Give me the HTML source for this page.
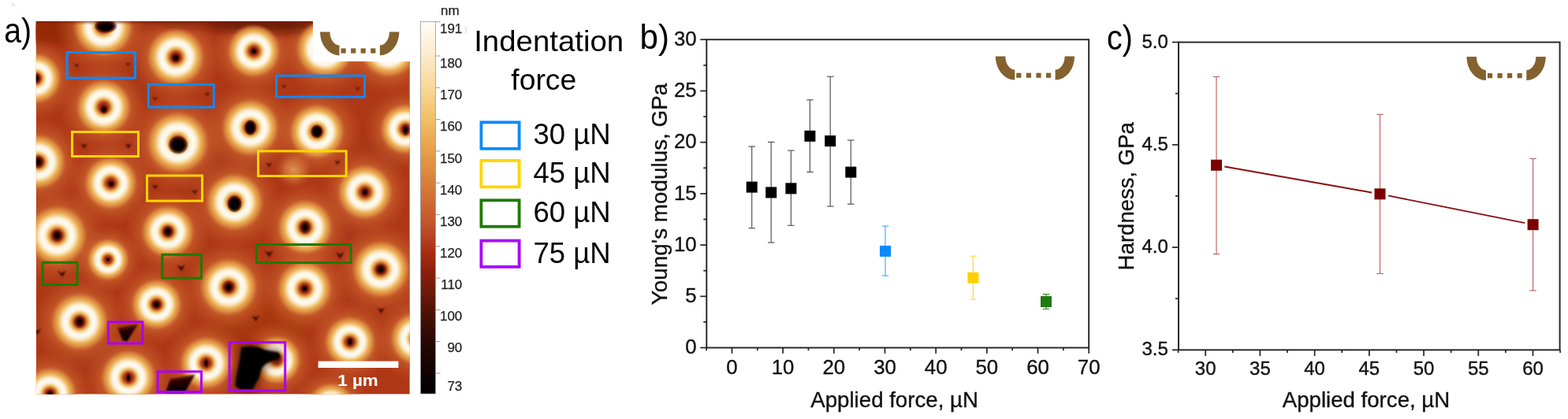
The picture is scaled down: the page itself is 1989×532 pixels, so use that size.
<!DOCTYPE html>
<html><head><meta charset="utf-8"><title>Figure</title>
<style>html,body{margin:0;padding:0;background:#fff;}body{width:1989px;height:532px;overflow:hidden;}svg{display:block;}</style>
</head><body>
<svg width="1989" height="532" viewBox="0 0 1989 532"><defs><radialGradient id="ring" cx="0.5" cy="0.5" r="0.5"><stop offset="0" stop-color="#5a1408"/><stop offset="0.083" stop-color="#8a2410"/><stop offset="0.152" stop-color="#a83418"/><stop offset="0.2" stop-color="#c05028"/><stop offset="0.25" stop-color="#d88c40"/><stop offset="0.3" stop-color="#eeba64"/><stop offset="0.345" stop-color="#f6d898"/><stop offset="0.39" stop-color="#fbeed8"/><stop offset="0.441" stop-color="#fdf8ec"/><stop offset="0.524" stop-color="#fdf8ec"/><stop offset="0.579" stop-color="#faecd0"/><stop offset="0.634" stop-color="#f6d8a0"/><stop offset="0.69" stop-color="#f0c070"/><stop offset="0.745" stop-color="#e8a850"/><stop offset="0.8" stop-color="#e29a48" stop-opacity="0.95"/><stop offset="0.855" stop-color="#dc8c44" stop-opacity="0.8"/><stop offset="0.924" stop-color="#d07838" stop-opacity="0.45"/><stop offset="1" stop-color="#c86030" stop-opacity="0"/></radialGradient>
<linearGradient id="topband" x1="0" y1="0" x2="0" y2="1">
<stop offset="0" stop-color="#4a0e02" stop-opacity="0.9"/>
<stop offset="0.15" stop-color="#6a1806" stop-opacity="0.5"/>
<stop offset="1" stop-color="#8a2008" stop-opacity="0"/>
</linearGradient>
<radialGradient id="halo" cx="0.5" cy="0.5" r="0.5">
<stop offset="0" stop-color="#e08a48" stop-opacity="0.9"/>
<stop offset="0.45" stop-color="#d87a3c" stop-opacity="0.8"/>
<stop offset="0.7" stop-color="#cc6430" stop-opacity="0.45"/>
<stop offset="1" stop-color="#c0502a" stop-opacity="0"/>
</radialGradient>
<radialGradient id="core" cx="0.5" cy="0.5" r="0.5">
<stop offset="0" stop-color="#000000"/>
<stop offset="0.3" stop-color="#140200"/>
<stop offset="0.6" stop-color="#4a0e04" stop-opacity="0.75"/>
<stop offset="1" stop-color="#7a200a" stop-opacity="0"/>
</radialGradient>
<radialGradient id="coreb" cx="0.5" cy="0.5" r="0.5">
<stop offset="0" stop-color="#000000"/>
<stop offset="0.55" stop-color="#060000"/>
<stop offset="0.8" stop-color="#3a0a02" stop-opacity="0.7"/>
<stop offset="1" stop-color="#7a200a" stop-opacity="0"/>
</radialGradient><linearGradient id="cbar" x1="0" y1="0" x2="0" y2="1"><stop offset="0" stop-color="#fffdf8"/><stop offset="0.09" stop-color="#fceacc"/><stop offset="0.175" stop-color="#f8d898"/><stop offset="0.259" stop-color="#f2c06a"/><stop offset="0.344" stop-color="#e8a04a"/><stop offset="0.429" stop-color="#d8803c"/><stop offset="0.513" stop-color="#c86030"/><stop offset="0.577" stop-color="#b84424"/><stop offset="0.619" stop-color="#a82c12"/><stop offset="0.672" stop-color="#8a200c"/><stop offset="0.725" stop-color="#6e1a0a"/><stop offset="0.788" stop-color="#4a1206"/><stop offset="0.852" stop-color="#2a0804"/><stop offset="0.937" stop-color="#120302"/><stop offset="1" stop-color="#000000"/></linearGradient><filter id="blur3" x="-50%" y="-50%" width="200%" height="200%"><feGaussianBlur stdDeviation="6"/></filter><filter id="blur2" x="-50%" y="-50%" width="200%" height="200%"><feGaussianBlur stdDeviation="1.8"/></filter>
<filter id="blur1" x="-50%" y="-50%" width="200%" height="200%"><feGaussianBlur stdDeviation="1.2"/></filter><linearGradient id="defg" x1="0" y1="0" x2="0.3" y2="1">
<stop offset="0" stop-color="#7a1e08" stop-opacity="0.7"/>
<stop offset="0.45" stop-color="#2a0400"/>
<stop offset="1" stop-color="#000000"/>
</linearGradient>
<radialGradient id="bump" cx="0.5" cy="0.5" r="0.5">
<stop offset="0" stop-color="#e8a860" stop-opacity="0.85"/>
<stop offset="0.5" stop-color="#dc8a48" stop-opacity="0.6"/>
<stop offset="1" stop-color="#c86030" stop-opacity="0"/>
</radialGradient>
<clipPath id="afmclip"><rect x="45.8" y="27" width="474" height="473.6"/></clipPath></defs><g clip-path="url(#afmclip)"><rect x="45.8" y="27" width="473.99999999999994" height="473.6" fill="#ae3816"/><g filter="url(#blur3)"><ellipse cx="70" cy="40" rx="40" ry="18" fill="#8a2208" opacity="0.7"/><ellipse cx="200" cy="30" rx="40" ry="6" fill="#7a1c06" opacity="0.5"/><ellipse cx="170" cy="110" rx="30" ry="20" fill="#a03410" opacity="0.5"/><ellipse cx="260" cy="215" rx="40" ry="30" fill="#a53812" opacity="0.4"/><ellipse cx="420" cy="280" rx="40" ry="30" fill="#a53812" opacity="0.4"/><ellipse cx="330" cy="420" rx="60" ry="40" fill="#a03410" opacity="0.4"/><ellipse cx="120" cy="450" rx="40" ry="30" fill="#a53812" opacity="0.4"/><ellipse cx="480" cy="200" rx="30" ry="30" fill="#a53812" opacity="0.4"/></g><circle cx="373" cy="215" r="24" fill="url(#bump)"/><circle cx="131" cy="34" r="62.1" fill="url(#halo)"/><circle cx="45.5" cy="99.5" r="52.9" fill="url(#halo)"/><circle cx="223" cy="72.5" r="59.8" fill="url(#halo)"/><circle cx="322" cy="65" r="55.2" fill="url(#halo)"/><circle cx="412" cy="62" r="59.8" fill="url(#halo)"/><circle cx="493" cy="62" r="59.8" fill="url(#halo)"/><circle cx="131.5" cy="136" r="57.5" fill="url(#halo)"/><circle cx="317.5" cy="162" r="59.8" fill="url(#halo)"/><circle cx="225.5" cy="181" r="64.4" fill="url(#halo)"/><circle cx="402" cy="167" r="57.5" fill="url(#halo)"/><circle cx="514.5" cy="164" r="52.9" fill="url(#halo)"/><circle cx="48.5" cy="205.5" r="57.5" fill="url(#halo)"/><circle cx="140.5" cy="232.5" r="55.2" fill="url(#halo)"/><circle cx="297.5" cy="256.5" r="59.8" fill="url(#halo)"/><circle cx="463" cy="244" r="57.5" fill="url(#halo)"/><circle cx="72.5" cy="299" r="62.1" fill="url(#halo)"/><circle cx="213" cy="294" r="55.2" fill="url(#halo)"/><circle cx="387" cy="288.5" r="57.5" fill="url(#halo)"/><circle cx="483" cy="342" r="59.8" fill="url(#halo)"/><circle cx="137" cy="329.5" r="43.7" fill="url(#halo)"/><circle cx="290" cy="364.5" r="59.8" fill="url(#halo)"/><circle cx="386.4" cy="366.4" r="57.5" fill="url(#halo)"/><circle cx="101" cy="408.5" r="59.8" fill="url(#halo)"/><circle cx="198.5" cy="386.5" r="52.9" fill="url(#halo)"/><circle cx="163" cy="479.5" r="57.5" fill="url(#halo)"/><circle cx="63.5" cy="500" r="55.2" fill="url(#halo)"/><circle cx="261.5" cy="461" r="55.2" fill="url(#halo)"/><circle cx="351" cy="457" r="50.6" fill="url(#halo)"/><circle cx="444" cy="434" r="52.9" fill="url(#halo)"/><circle cx="528.5" cy="430" r="55.2" fill="url(#halo)"/><circle cx="420" cy="517" r="50.6" fill="url(#halo)"/><g filter="url(#blur3)"><ellipse cx="335" cy="31" rx="75" ry="11" fill="#5a1404" opacity="0.8"/><ellipse cx="240" cy="29" rx="40" ry="6" fill="#6a1806" opacity="0.6"/></g><circle cx="131" cy="34" r="39.1" fill="url(#ring)"/><circle cx="45.5" cy="99.5" r="33.4" fill="url(#ring)"/><circle cx="223" cy="72.5" r="37.7" fill="url(#ring)"/><circle cx="322" cy="65" r="34.8" fill="url(#ring)"/><circle cx="412" cy="62" r="37.7" fill="url(#ring)"/><circle cx="493" cy="62" r="37.7" fill="url(#ring)"/><circle cx="131.5" cy="136" r="36.2" fill="url(#ring)"/><circle cx="317.5" cy="162" r="37.7" fill="url(#ring)"/><circle cx="225.5" cy="181" r="40.6" fill="url(#ring)"/><circle cx="402" cy="167" r="36.2" fill="url(#ring)"/><circle cx="514.5" cy="164" r="33.4" fill="url(#ring)"/><circle cx="48.5" cy="205.5" r="36.2" fill="url(#ring)"/><circle cx="140.5" cy="232.5" r="34.8" fill="url(#ring)"/><circle cx="297.5" cy="256.5" r="37.7" fill="url(#ring)"/><circle cx="463" cy="244" r="36.2" fill="url(#ring)"/><circle cx="72.5" cy="299" r="39.1" fill="url(#ring)"/><circle cx="213" cy="294" r="34.8" fill="url(#ring)"/><circle cx="387" cy="288.5" r="36.2" fill="url(#ring)"/><circle cx="483" cy="342" r="37.7" fill="url(#ring)"/><circle cx="137" cy="329.5" r="27.6" fill="url(#ring)"/><circle cx="290" cy="364.5" r="37.7" fill="url(#ring)"/><circle cx="386.4" cy="366.4" r="36.2" fill="url(#ring)"/><circle cx="101" cy="408.5" r="37.7" fill="url(#ring)"/><circle cx="198.5" cy="386.5" r="33.4" fill="url(#ring)"/><circle cx="163" cy="479.5" r="36.2" fill="url(#ring)"/><circle cx="63.5" cy="500" r="34.8" fill="url(#ring)"/><circle cx="261.5" cy="461" r="34.8" fill="url(#ring)"/><circle cx="351" cy="457" r="31.9" fill="url(#ring)"/><circle cx="444" cy="434" r="33.4" fill="url(#ring)"/><circle cx="528.5" cy="430" r="34.8" fill="url(#ring)"/><circle cx="420" cy="517" r="31.9" fill="url(#ring)"/><ellipse cx="134" cy="33" rx="15.20" ry="9.50" fill="url(#coreb)"/><ellipse cx="45.5" cy="99.5" rx="7.00" ry="8.00" fill="url(#core)"/><ellipse cx="223" cy="73.5" rx="7.00" ry="7.00" fill="url(#core)"/><ellipse cx="322" cy="65" rx="5.50" ry="5.50" fill="url(#core)"/><ellipse cx="412" cy="62" rx="7.00" ry="7.00" fill="url(#core)"/><ellipse cx="493" cy="62" rx="7.00" ry="7.00" fill="url(#core)"/><ellipse cx="132.0" cy="139" rx="6.00" ry="6.50" fill="url(#core)"/><ellipse cx="317.5" cy="162" rx="8.07" ry="10.45" fill="url(#coreb)"/><ellipse cx="226.0" cy="184" rx="13.30" ry="12.35" fill="url(#coreb)"/><ellipse cx="402" cy="167" rx="8.07" ry="9.03" fill="url(#coreb)"/><ellipse cx="514.5" cy="165" rx="5.50" ry="8.50" fill="url(#core)"/><ellipse cx="48.5" cy="205.5" rx="8.00" ry="9.00" fill="url(#core)"/><ellipse cx="141.0" cy="233.5" rx="5.50" ry="5.50" fill="url(#core)"/><ellipse cx="297.5" cy="259.0" rx="9.97" ry="11.40" fill="url(#coreb)"/><ellipse cx="463" cy="244" rx="5.50" ry="6.50" fill="url(#core)"/><ellipse cx="72.5" cy="299" rx="8.00" ry="9.00" fill="url(#core)"/><ellipse cx="213" cy="294" rx="7.50" ry="8.50" fill="url(#core)"/><ellipse cx="387" cy="288.5" rx="8.00" ry="10.00" fill="url(#core)"/><ellipse cx="483" cy="342" rx="8.00" ry="8.00" fill="url(#core)"/><ellipse cx="137" cy="329.5" rx="3.50" ry="3.50" fill="url(#core)"/><ellipse cx="290" cy="364.5" rx="8.00" ry="9.00" fill="url(#core)"/><ellipse cx="386.4" cy="366.4" rx="6.00" ry="6.00" fill="url(#core)"/><ellipse cx="101" cy="408.5" rx="8.00" ry="9.00" fill="url(#core)"/><ellipse cx="198.5" cy="386.5" rx="7.00" ry="7.00" fill="url(#core)"/><ellipse cx="163" cy="479.5" rx="4.00" ry="7.50" fill="url(#core)"/><ellipse cx="63.5" cy="500" rx="6.00" ry="6.00" fill="url(#core)"/><ellipse cx="261.5" cy="461" rx="4.00" ry="7.00" fill="url(#core)"/><ellipse cx="351" cy="454" rx="6.00" ry="5.00" fill="url(#core)"/><ellipse cx="444" cy="434" rx="5.00" ry="7.00" fill="url(#core)"/><ellipse cx="528.5" cy="430" rx="6.00" ry="6.00" fill="url(#core)"/><ellipse cx="420" cy="517" rx="5.00" ry="5.00" fill="url(#core)"/><rect x="46" y="27" width="474" height="5" fill="url(#topband)"/><path d="M93.8 80.8 L97.0 82.4 L100.2 80.8 L97.3 85.6 Z" fill="#2a0400" opacity="0.85" filter="url(#blur1)"/><path d="M158.8 79.3 L162.0 80.9 L165.2 79.3 L162.3 84.1 Z" fill="#2a0400" opacity="0.85" filter="url(#blur1)"/><path d="M193.3 122.8 L196.5 124.4 L199.7 122.8 L196.8 127.6 Z" fill="#2a0400" opacity="0.85" filter="url(#blur1)"/><path d="M259.8 117.3 L263.0 118.9 L266.2 117.3 L263.3 122.1 Z" fill="#2a0400" opacity="0.85" filter="url(#blur1)"/><path d="M356.8 107.3 L360.0 108.9 L363.2 107.3 L360.3 112.1 Z" fill="#2a0400" opacity="0.85" filter="url(#blur1)"/><path d="M450.3 110.3 L453.5 111.9 L456.7 110.3 L453.8 115.1 Z" fill="#2a0400" opacity="0.85" filter="url(#blur1)"/><path d="M102.3 182.1 L106.5 184.2 L110.7 182.1 L106.9 188.4 Z" fill="#2a0400" opacity="0.85" filter="url(#blur1)"/><path d="M158.3 182.1 L162.5 184.2 L166.7 182.1 L162.9 188.4 Z" fill="#2a0400" opacity="0.85" filter="url(#blur1)"/><path d="M192.5 234.2 L196.5 236.2 L200.5 234.2 L196.9 240.2 Z" fill="#2a0400" opacity="0.85" filter="url(#blur1)"/><path d="M243.0 240.7 L247.0 242.7 L251.0 240.7 L247.4 246.7 Z" fill="#2a0400" opacity="0.85" filter="url(#blur1)"/><path d="M337.0 206.2 L341.0 208.2 L345.0 206.2 L341.4 212.2 Z" fill="#2a0400" opacity="0.85" filter="url(#blur1)"/><path d="M424.0 203.2 L428.0 205.2 L432.0 203.2 L428.4 209.2 Z" fill="#2a0400" opacity="0.85" filter="url(#blur1)"/><path d="M73.0 343.6 L78.5 346.4 L84.0 343.6 L79.0 351.9 Z" fill="#2a0400" opacity="0.85" filter="url(#blur1)"/><path d="M224.0 336.1 L229.5 338.9 L235.0 336.1 L230.1 344.4 Z" fill="#2a0400" opacity="0.85" filter="url(#blur1)"/><path d="M335.5 318.1 L341.0 320.9 L346.5 318.1 L341.6 326.4 Z" fill="#2a0400" opacity="0.85" filter="url(#blur1)"/><path d="M425.5 320.1 L431.0 322.9 L436.5 320.1 L431.6 328.4 Z" fill="#2a0400" opacity="0.85" filter="url(#blur1)"/><path d="M319.0 400.5 L324.0 403.0 L329.0 400.5 L324.5 408.0 Z" fill="#2a0400" opacity="0.85" filter="url(#blur1)"/><path d="M478.0 390.5 L483.0 393.0 L488.0 390.5 L483.5 398.0 Z" fill="#2a0400" opacity="0.85" filter="url(#blur1)"/><path d="M42.0 417.5 L47.0 420.0 L52.0 417.5 L47.5 425.0 Z" fill="#2a0400" opacity="0.85" filter="url(#blur1)"/><path d="M149 416 L175 411.5 L161 433.5 L155.5 432 Z" fill="url(#defg)" filter="url(#blur1)"/><path d="M210 499 L216 481 L247.5 475.5 L234 499 Z" fill="url(#defg)" filter="url(#blur1)"/><path d="M306 441 L318 439.5 L328.5 441 L336 444 L345 446 L353 447.5 L356 452 L348 457.5 L338 461.5 L332.5 466.5 L330.5 473 L328.5 480.5 L324 487.5 L321 494.5 L306 495 L298.5 490 L299.5 480 L302 467.5 L304.5 454 Z" fill="#4a0c02" stroke="#4a0c02" stroke-width="6" opacity="0.6" filter="url(#blur3)"/><path d="M306 441 L318 439.5 L328.5 441 L336 444 L345 446 L353 447.5 L356 452 L348 457.5 L338 461.5 L332.5 466.5 L330.5 473 L328.5 480.5 L324 487.5 L321 494.5 L306 495 L298.5 490 L299.5 480 L302 467.5 L304.5 454 Z" fill="#030000" filter="url(#blur2)"/></g>
<rect x="85.1" y="66.5" width="86.4" height="32.6" fill="none" stroke="#0a8aff" stroke-width="3"/>
<rect x="188.3" y="107.3" width="82.9" height="28.8" fill="none" stroke="#0a8aff" stroke-width="3"/>
<rect x="350.5" y="96.1" width="112.0" height="27.0" fill="none" stroke="#0a8aff" stroke-width="3"/>
<rect x="91.5" y="167.5" width="84.0" height="31.0" fill="none" stroke="#ffd500" stroke-width="3"/>
<rect x="186.5" y="223.0" width="70.0" height="32.1" fill="none" stroke="#ffd500" stroke-width="3"/>
<rect x="327.5" y="191.9" width="111.7" height="31.6" fill="none" stroke="#ffd500" stroke-width="3"/>
<rect x="54.0" y="333.3" width="44.1" height="28.2" fill="none" stroke="#1f7a00" stroke-width="3"/>
<rect x="205.8" y="323.3" width="49.5" height="29.8" fill="none" stroke="#1f7a00" stroke-width="3"/>
<rect x="325.5" y="310.5" width="119.5" height="23.0" fill="none" stroke="#1f7a00" stroke-width="3"/>
<rect x="137.4" y="408.8" width="43.4" height="27.2" fill="none" stroke="#aa00ff" stroke-width="3"/>
<rect x="200.0" y="471.8" width="55.5" height="25.7" fill="none" stroke="#aa00ff" stroke-width="3"/>
<rect x="291.1" y="434.7" width="70.6" height="61.4" fill="none" stroke="#aa00ff" stroke-width="3"/>
<rect x="403.6" y="458.6" width="101.8" height="8.4" fill="#ffffff"/>
<text x="428.3" y="490.4" font-family='"Liberation Sans", Arial, sans-serif' font-weight="bold" font-size="21" fill="#ffffff" textLength="51.5" lengthAdjust="spacingAndGlyphs">1 µm</text>
<rect x="397" y="26" width="123" height="52" fill="#ffffff"/>
<path d="M406.0 40.4 L418.5 40.4 A12.0 17.0 0 0 0 430.5 57.4 L430.5 70.4 A24.5 30.0 0 0 1 406.0 40.4 Z" fill="#84612e"/><path d="M506.4 40.4 L493.9 40.4 A12.0 17.0 0 0 1 481.9 57.4 L481.9 70.4 A24.5 30.0 0 0 0 506.4 40.4 Z" fill="#84612e"/><rect x="432.5" y="61.4" width="6.2" height="6.2" fill="#84612e"/><rect x="445.1" y="61.4" width="6.2" height="6.2" fill="#84612e"/><rect x="457.6" y="61.4" width="6.2" height="6.2" fill="#84612e"/><rect x="470.2" y="61.4" width="6.2" height="6.2" fill="#84612e"/>
<rect x="533.5" y="27.5" width="19" height="472.5" fill="url(#cbar)" stroke="#9a9a9a" stroke-width="0.8"/>
<line x1="552.5" y1="27.7" x2="558.5" y2="27.7" stroke="#9a9a9a" stroke-width="1"/>
<line x1="552.5" y1="71" x2="558.5" y2="71" stroke="#9a9a9a" stroke-width="1"/>
<line x1="552.5" y1="111.3" x2="558.5" y2="111.3" stroke="#9a9a9a" stroke-width="1"/>
<line x1="552.5" y1="151.6" x2="558.5" y2="151.6" stroke="#9a9a9a" stroke-width="1"/>
<line x1="552.5" y1="191.9" x2="558.5" y2="191.9" stroke="#9a9a9a" stroke-width="1"/>
<line x1="552.5" y1="232.2" x2="558.5" y2="232.2" stroke="#9a9a9a" stroke-width="1"/>
<line x1="552.5" y1="272.5" x2="558.5" y2="272.5" stroke="#9a9a9a" stroke-width="1"/>
<line x1="552.5" y1="312.8" x2="558.5" y2="312.8" stroke="#9a9a9a" stroke-width="1"/>
<line x1="552.5" y1="353.1" x2="558.5" y2="353.1" stroke="#9a9a9a" stroke-width="1"/>
<line x1="552.5" y1="393.4" x2="558.5" y2="393.4" stroke="#9a9a9a" stroke-width="1"/>
<line x1="552.5" y1="433.7" x2="558.5" y2="433.7" stroke="#9a9a9a" stroke-width="1"/>
<line x1="552.5" y1="474" x2="558.5" y2="474" stroke="#9a9a9a" stroke-width="1"/>
<text x="586.3" y="42.3" text-anchor="end" font-family='"Liberation Sans", Arial, sans-serif' font-size="17" fill="#222" stroke="#222" stroke-width="0.25">191</text>
<text x="586.3" y="86.2" text-anchor="end" font-family='"Liberation Sans", Arial, sans-serif' font-size="17" fill="#222" stroke="#222" stroke-width="0.25">180</text>
<text x="586.3" y="126" text-anchor="end" font-family='"Liberation Sans", Arial, sans-serif' font-size="17" fill="#222" stroke="#222" stroke-width="0.25">170</text>
<text x="586.3" y="166" text-anchor="end" font-family='"Liberation Sans", Arial, sans-serif' font-size="17" fill="#222" stroke="#222" stroke-width="0.25">160</text>
<text x="586.3" y="207" text-anchor="end" font-family='"Liberation Sans", Arial, sans-serif' font-size="17" fill="#222" stroke="#222" stroke-width="0.25">150</text>
<text x="586.3" y="247" text-anchor="end" font-family='"Liberation Sans", Arial, sans-serif' font-size="17" fill="#222" stroke="#222" stroke-width="0.25">140</text>
<text x="586.3" y="287" text-anchor="end" font-family='"Liberation Sans", Arial, sans-serif' font-size="17" fill="#222" stroke="#222" stroke-width="0.25">130</text>
<text x="586.3" y="327" text-anchor="end" font-family='"Liberation Sans", Arial, sans-serif' font-size="17" fill="#222" stroke="#222" stroke-width="0.25">120</text>
<text x="586.3" y="367" text-anchor="end" font-family='"Liberation Sans", Arial, sans-serif' font-size="17" fill="#222" stroke="#222" stroke-width="0.25">110</text>
<text x="586.3" y="407" text-anchor="end" font-family='"Liberation Sans", Arial, sans-serif' font-size="17" fill="#222" stroke="#222" stroke-width="0.25">100</text>
<text x="586.3" y="447" text-anchor="end" font-family='"Liberation Sans", Arial, sans-serif' font-size="17" fill="#222" stroke="#222" stroke-width="0.25">90</text>
<text x="586.3" y="496" text-anchor="end" font-family='"Liberation Sans", Arial, sans-serif' font-size="17" fill="#222" stroke="#222" stroke-width="0.25">73</text>
<line x1="591" y1="34" x2="591" y2="42" stroke="#d0d0d0" stroke-width="1"/>
<text x="559" y="18.8" font-family='"Liberation Sans", Arial, sans-serif' font-size="17" fill="#222" stroke="#222" stroke-width="0.25">nm</text>
<text x="601.2" y="65.2" font-family='"Liberation Sans", Arial, sans-serif' font-size="36" fill="#000" textLength="190" lengthAdjust="spacingAndGlyphs">Indentation</text>
<text x="648.3" y="113.5" font-family='"Liberation Sans", Arial, sans-serif' font-size="36" fill="#000" textLength="83" lengthAdjust="spacingAndGlyphs">force</text>
<rect x="610.4" y="155.3" width="48.2" height="33.5" fill="none" stroke="#0a8aff" stroke-width="3.8"/>
<text x="676.5" y="183.4" font-family='"Liberation Sans", Arial, sans-serif' font-size="36" fill="#000" textLength="98" lengthAdjust="spacingAndGlyphs">30 µN</text>
<rect x="610.4" y="203.9" width="48.2" height="33.4" fill="none" stroke="#ffd500" stroke-width="3.8"/>
<text x="676.5" y="232" font-family='"Liberation Sans", Arial, sans-serif' font-size="36" fill="#000" textLength="98" lengthAdjust="spacingAndGlyphs">45 µN</text>
<rect x="610.4" y="254.3" width="48.2" height="33.4" fill="none" stroke="#1f7a00" stroke-width="3.8"/>
<text x="676.5" y="282.4" font-family='"Liberation Sans", Arial, sans-serif' font-size="36" fill="#000" textLength="98" lengthAdjust="spacingAndGlyphs">60 µN</text>
<rect x="610.4" y="305.6" width="48.2" height="33.2" fill="none" stroke="#aa00ff" stroke-width="3.8"/>
<text x="676.5" y="334" font-family='"Liberation Sans", Arial, sans-serif' font-size="36" fill="#000" textLength="98" lengthAdjust="spacingAndGlyphs">75 µN</text>
<line x1="14.5" y1="3.5" x2="19" y2="8" stroke="#c8c8c8" stroke-width="1"/>
<text x="5.2" y="54.3" font-family='"Liberation Sans", Arial, sans-serif' font-size="43.5" fill="#000" textLength="34.8" lengthAdjust="spacingAndGlyphs">a)</text>
<text x="811.6" y="62.2" font-family='"Liberation Sans", Arial, sans-serif' font-size="44" fill="#000" textLength="37.4" lengthAdjust="spacingAndGlyphs">b)</text>
<text x="1404" y="63.2" font-family='"Liberation Sans", Arial, sans-serif' font-size="44" fill="#000" textLength="32.8" lengthAdjust="spacingAndGlyphs">c)</text>
<rect x="896.3" y="50.25" width="484.90" height="391.25" fill="none" stroke="#222222" stroke-width="1.9"/>
<line x1="896.11" y1="441.5" x2="896.11" y2="445.1" stroke="#222222" stroke-width="1.7"/>
<line x1="928.45" y1="441.5" x2="928.45" y2="448.8" stroke="#222222" stroke-width="1.7"/>
<text x="928.45" y="474.5" text-anchor="middle" font-family='"Liberation Sans", Arial, sans-serif' font-size="25.8" fill="#111" stroke="#111" stroke-width="0.35">0</text>
<line x1="960.79" y1="441.5" x2="960.79" y2="445.1" stroke="#222222" stroke-width="1.7"/>
<line x1="993.13" y1="441.5" x2="993.13" y2="448.8" stroke="#222222" stroke-width="1.7"/>
<text x="993.13" y="474.5" text-anchor="middle" font-family='"Liberation Sans", Arial, sans-serif' font-size="25.8" fill="#111" stroke="#111" stroke-width="0.35">10</text>
<line x1="1025.47" y1="441.5" x2="1025.47" y2="445.1" stroke="#222222" stroke-width="1.7"/>
<line x1="1057.81" y1="441.5" x2="1057.81" y2="448.8" stroke="#222222" stroke-width="1.7"/>
<text x="1057.81" y="474.5" text-anchor="middle" font-family='"Liberation Sans", Arial, sans-serif' font-size="25.8" fill="#111" stroke="#111" stroke-width="0.35">20</text>
<line x1="1090.15" y1="441.5" x2="1090.15" y2="445.1" stroke="#222222" stroke-width="1.7"/>
<line x1="1122.49" y1="441.5" x2="1122.49" y2="448.8" stroke="#222222" stroke-width="1.7"/>
<text x="1122.49" y="474.5" text-anchor="middle" font-family='"Liberation Sans", Arial, sans-serif' font-size="25.8" fill="#111" stroke="#111" stroke-width="0.35">30</text>
<line x1="1154.83" y1="441.5" x2="1154.83" y2="445.1" stroke="#222222" stroke-width="1.7"/>
<line x1="1187.17" y1="441.5" x2="1187.17" y2="448.8" stroke="#222222" stroke-width="1.7"/>
<text x="1187.17" y="474.5" text-anchor="middle" font-family='"Liberation Sans", Arial, sans-serif' font-size="25.8" fill="#111" stroke="#111" stroke-width="0.35">40</text>
<line x1="1219.51" y1="441.5" x2="1219.51" y2="445.1" stroke="#222222" stroke-width="1.7"/>
<line x1="1251.85" y1="441.5" x2="1251.85" y2="448.8" stroke="#222222" stroke-width="1.7"/>
<text x="1251.85" y="474.5" text-anchor="middle" font-family='"Liberation Sans", Arial, sans-serif' font-size="25.8" fill="#111" stroke="#111" stroke-width="0.35">50</text>
<line x1="1284.19" y1="441.5" x2="1284.19" y2="445.1" stroke="#222222" stroke-width="1.7"/>
<line x1="1316.53" y1="441.5" x2="1316.53" y2="448.8" stroke="#222222" stroke-width="1.7"/>
<text x="1316.53" y="474.5" text-anchor="middle" font-family='"Liberation Sans", Arial, sans-serif' font-size="25.8" fill="#111" stroke="#111" stroke-width="0.35">60</text>
<line x1="1348.87" y1="441.5" x2="1348.87" y2="445.1" stroke="#222222" stroke-width="1.7"/>
<line x1="1381.21" y1="441.5" x2="1381.21" y2="448.8" stroke="#222222" stroke-width="1.7"/>
<text x="1381.21" y="474.5" text-anchor="middle" font-family='"Liberation Sans", Arial, sans-serif' font-size="25.8" fill="#111" stroke="#111" stroke-width="0.35">70</text>
<line x1="888.3" y1="441.50" x2="896.3" y2="441.50" stroke="#222222" stroke-width="1.7"/>
<text x="883.6" y="449.30" text-anchor="end" font-family='"Liberation Sans", Arial, sans-serif' font-size="25.8" fill="#111" stroke="#111" stroke-width="0.35">0</text>
<line x1="892.3" y1="408.89" x2="896.3" y2="408.89" stroke="#222222" stroke-width="1.7"/>
<line x1="888.3" y1="376.29" x2="896.3" y2="376.29" stroke="#222222" stroke-width="1.7"/>
<text x="883.6" y="384.09" text-anchor="end" font-family='"Liberation Sans", Arial, sans-serif' font-size="25.8" fill="#111" stroke="#111" stroke-width="0.35">5</text>
<line x1="892.3" y1="343.69" x2="896.3" y2="343.69" stroke="#222222" stroke-width="1.7"/>
<line x1="888.3" y1="311.08" x2="896.3" y2="311.08" stroke="#222222" stroke-width="1.7"/>
<text x="883.6" y="318.88" text-anchor="end" font-family='"Liberation Sans", Arial, sans-serif' font-size="25.8" fill="#111" stroke="#111" stroke-width="0.35">10</text>
<line x1="892.3" y1="278.48" x2="896.3" y2="278.48" stroke="#222222" stroke-width="1.7"/>
<line x1="888.3" y1="245.87" x2="896.3" y2="245.87" stroke="#222222" stroke-width="1.7"/>
<text x="883.6" y="253.67" text-anchor="end" font-family='"Liberation Sans", Arial, sans-serif' font-size="25.8" fill="#111" stroke="#111" stroke-width="0.35">15</text>
<line x1="892.3" y1="213.27" x2="896.3" y2="213.27" stroke="#222222" stroke-width="1.7"/>
<line x1="888.3" y1="180.66" x2="896.3" y2="180.66" stroke="#222222" stroke-width="1.7"/>
<text x="883.6" y="188.46" text-anchor="end" font-family='"Liberation Sans", Arial, sans-serif' font-size="25.8" fill="#111" stroke="#111" stroke-width="0.35">20</text>
<line x1="892.3" y1="148.06" x2="896.3" y2="148.06" stroke="#222222" stroke-width="1.7"/>
<line x1="888.3" y1="115.45" x2="896.3" y2="115.45" stroke="#222222" stroke-width="1.7"/>
<text x="883.6" y="123.25" text-anchor="end" font-family='"Liberation Sans", Arial, sans-serif' font-size="25.8" fill="#111" stroke="#111" stroke-width="0.35">25</text>
<line x1="892.3" y1="82.85" x2="896.3" y2="82.85" stroke="#222222" stroke-width="1.7"/>
<line x1="888.3" y1="50.24" x2="896.3" y2="50.24" stroke="#222222" stroke-width="1.7"/>
<text x="883.6" y="58.04" text-anchor="end" font-family='"Liberation Sans", Arial, sans-serif' font-size="25.8" fill="#111" stroke="#111" stroke-width="0.35">30</text>
<text transform="translate(846.2,246.4) rotate(-90)" text-anchor="middle" font-family='"Liberation Sans", Arial, sans-serif' font-size="27.6" fill="#111" stroke="#111" stroke-width="0.35" textLength="281.5" lengthAdjust="spacingAndGlyphs">Young's modulus, GPa</text>
<text x="1134.6" y="517.2" text-anchor="middle" font-family='"Liberation Sans", Arial, sans-serif' font-size="27.6" fill="#111" stroke="#111" stroke-width="0.35" textLength="212.6" lengthAdjust="spacingAndGlyphs">Applied force, µN</text>
<line x1="953.7" y1="186.0" x2="953.7" y2="289.7" stroke="#555" stroke-width="1.2"/><line x1="949.5" y1="186.0" x2="958.0" y2="186.0" stroke="#555" stroke-width="1.2"/><line x1="949.5" y1="289.7" x2="958.0" y2="289.7" stroke="#555" stroke-width="1.2"/>
<line x1="978.2" y1="180.4" x2="978.2" y2="308.0" stroke="#555" stroke-width="1.2"/><line x1="974.0" y1="180.4" x2="982.5" y2="180.4" stroke="#555" stroke-width="1.2"/><line x1="974.0" y1="308.0" x2="982.5" y2="308.0" stroke="#555" stroke-width="1.2"/>
<line x1="1003.4" y1="191.1" x2="1003.4" y2="286.3" stroke="#555" stroke-width="1.2"/><line x1="999.1" y1="191.1" x2="1007.6" y2="191.1" stroke="#555" stroke-width="1.2"/><line x1="999.1" y1="286.3" x2="1007.6" y2="286.3" stroke="#555" stroke-width="1.2"/>
<line x1="1027.4" y1="126.8" x2="1027.4" y2="218.4" stroke="#555" stroke-width="1.2"/><line x1="1023.2" y1="126.8" x2="1031.7" y2="126.8" stroke="#555" stroke-width="1.2"/><line x1="1023.2" y1="218.4" x2="1031.7" y2="218.4" stroke="#555" stroke-width="1.2"/>
<line x1="1053.2" y1="97.2" x2="1053.2" y2="262.0" stroke="#555" stroke-width="1.2"/><line x1="1049.0" y1="97.2" x2="1057.5" y2="97.2" stroke="#555" stroke-width="1.2"/><line x1="1049.0" y1="262.0" x2="1057.5" y2="262.0" stroke="#555" stroke-width="1.2"/>
<line x1="1079.3" y1="178.0" x2="1079.3" y2="259.2" stroke="#555" stroke-width="1.2"/><line x1="1075.0" y1="178.0" x2="1083.5" y2="178.0" stroke="#555" stroke-width="1.2"/><line x1="1075.0" y1="259.2" x2="1083.5" y2="259.2" stroke="#555" stroke-width="1.2"/>
<line x1="1123.0" y1="287.1" x2="1123.0" y2="350.1" stroke="#48a8ff" stroke-width="1.2"/><line x1="1118.8" y1="287.1" x2="1127.2" y2="287.1" stroke="#48a8ff" stroke-width="1.2"/><line x1="1118.8" y1="350.1" x2="1127.2" y2="350.1" stroke="#48a8ff" stroke-width="1.2"/>
<line x1="1234.4" y1="325.2" x2="1234.4" y2="380.0" stroke="#ffd840" stroke-width="1.2"/><line x1="1230.2" y1="325.2" x2="1238.7" y2="325.2" stroke="#ffd840" stroke-width="1.2"/><line x1="1230.2" y1="380.0" x2="1238.7" y2="380.0" stroke="#ffd840" stroke-width="1.2"/>
<line x1="1327.0" y1="373.6" x2="1327.0" y2="392.3" stroke="#3a8a2a" stroke-width="1.2"/><line x1="1322.8" y1="373.6" x2="1331.2" y2="373.6" stroke="#3a8a2a" stroke-width="1.2"/><line x1="1322.8" y1="392.3" x2="1331.2" y2="392.3" stroke="#3a8a2a" stroke-width="1.2"/>
<rect x="946.7" y="230.6" width="14" height="14" fill="#000"/>
<rect x="971.2" y="237.4" width="14" height="14" fill="#000"/>
<rect x="996.4" y="232.3" width="14" height="14" fill="#000"/>
<rect x="1020.4" y="165.8" width="14" height="14" fill="#000"/>
<rect x="1046.2" y="172.0" width="14" height="14" fill="#000"/>
<rect x="1072.3" y="211.6" width="14" height="14" fill="#000"/>
<rect x="1116.0" y="311.9" width="14" height="14" fill="#0a8aff"/>
<rect x="1227.4" y="345.7" width="14" height="14" fill="#ffd000"/>
<rect x="1320.0" y="376.0" width="14" height="14" fill="#237a12"/>
<path d="M1262.8 71.6 L1275.3 71.6 A12.0 17.0 0 0 0 1287.3 88.6 L1287.3 101.6 A24.5 30.0 0 0 1 1262.8 71.6 Z" fill="#84612e"/><path d="M1363.1 71.6 L1350.6 71.6 A12.0 17.0 0 0 1 1338.6 88.6 L1338.6 101.6 A24.5 30.0 0 0 0 1363.1 71.6 Z" fill="#84612e"/><rect x="1289.2" y="92.6" width="6.2" height="6.2" fill="#84612e"/><rect x="1301.8" y="92.6" width="6.2" height="6.2" fill="#84612e"/><rect x="1314.4" y="92.6" width="6.2" height="6.2" fill="#84612e"/><rect x="1327.0" y="92.6" width="6.2" height="6.2" fill="#84612e"/>
<rect x="1495.0" y="53.6" width="483.60" height="390.70" fill="none" stroke="#222222" stroke-width="1.9"/>
<line x1="1494.59" y1="444.3" x2="1494.59" y2="448.0" stroke="#222222" stroke-width="1.7"/>
<line x1="1529.20" y1="444.3" x2="1529.20" y2="452.0" stroke="#222222" stroke-width="1.7"/>
<text x="1529.20" y="475.7" text-anchor="middle" font-family='"Liberation Sans", Arial, sans-serif' font-size="24" fill="#111" stroke="#111" stroke-width="0.35">30</text>
<line x1="1563.81" y1="444.3" x2="1563.81" y2="448.0" stroke="#222222" stroke-width="1.7"/>
<line x1="1598.41" y1="444.3" x2="1598.41" y2="452.0" stroke="#222222" stroke-width="1.7"/>
<text x="1598.41" y="475.7" text-anchor="middle" font-family='"Liberation Sans", Arial, sans-serif' font-size="24" fill="#111" stroke="#111" stroke-width="0.35">35</text>
<line x1="1633.02" y1="444.3" x2="1633.02" y2="448.0" stroke="#222222" stroke-width="1.7"/>
<line x1="1667.63" y1="444.3" x2="1667.63" y2="452.0" stroke="#222222" stroke-width="1.7"/>
<text x="1667.63" y="475.7" text-anchor="middle" font-family='"Liberation Sans", Arial, sans-serif' font-size="24" fill="#111" stroke="#111" stroke-width="0.35">40</text>
<line x1="1702.24" y1="444.3" x2="1702.24" y2="448.0" stroke="#222222" stroke-width="1.7"/>
<line x1="1736.85" y1="444.3" x2="1736.85" y2="452.0" stroke="#222222" stroke-width="1.7"/>
<text x="1736.85" y="475.7" text-anchor="middle" font-family='"Liberation Sans", Arial, sans-serif' font-size="24" fill="#111" stroke="#111" stroke-width="0.35">45</text>
<line x1="1771.45" y1="444.3" x2="1771.45" y2="448.0" stroke="#222222" stroke-width="1.7"/>
<line x1="1806.06" y1="444.3" x2="1806.06" y2="452.0" stroke="#222222" stroke-width="1.7"/>
<text x="1806.06" y="475.7" text-anchor="middle" font-family='"Liberation Sans", Arial, sans-serif' font-size="24" fill="#111" stroke="#111" stroke-width="0.35">50</text>
<line x1="1840.67" y1="444.3" x2="1840.67" y2="448.0" stroke="#222222" stroke-width="1.7"/>
<line x1="1875.28" y1="444.3" x2="1875.28" y2="452.0" stroke="#222222" stroke-width="1.7"/>
<text x="1875.28" y="475.7" text-anchor="middle" font-family='"Liberation Sans", Arial, sans-serif' font-size="24" fill="#111" stroke="#111" stroke-width="0.35">55</text>
<line x1="1909.88" y1="444.3" x2="1909.88" y2="448.0" stroke="#222222" stroke-width="1.7"/>
<line x1="1944.49" y1="444.3" x2="1944.49" y2="452.0" stroke="#222222" stroke-width="1.7"/>
<text x="1944.49" y="475.7" text-anchor="middle" font-family='"Liberation Sans", Arial, sans-serif' font-size="24" fill="#111" stroke="#111" stroke-width="0.35">60</text>
<line x1="1979.10" y1="444.3" x2="1979.10" y2="448.0" stroke="#222222" stroke-width="1.7"/>
<line x1="1487.0" y1="444.30" x2="1495.0" y2="444.30" stroke="#222222" stroke-width="1.7"/>
<text x="1481.9" y="451.30" text-anchor="end" font-family='"Liberation Sans", Arial, sans-serif' font-size="24" fill="#111" stroke="#111" stroke-width="0.35">3.5</text>
<line x1="1491.0" y1="379.18" x2="1495.0" y2="379.18" stroke="#222222" stroke-width="1.7"/>
<line x1="1487.0" y1="314.05" x2="1495.0" y2="314.05" stroke="#222222" stroke-width="1.7"/>
<text x="1481.9" y="321.05" text-anchor="end" font-family='"Liberation Sans", Arial, sans-serif' font-size="24" fill="#111" stroke="#111" stroke-width="0.35">4.0</text>
<line x1="1491.0" y1="248.93" x2="1495.0" y2="248.93" stroke="#222222" stroke-width="1.7"/>
<line x1="1487.0" y1="183.80" x2="1495.0" y2="183.80" stroke="#222222" stroke-width="1.7"/>
<text x="1481.9" y="190.80" text-anchor="end" font-family='"Liberation Sans", Arial, sans-serif' font-size="24" fill="#111" stroke="#111" stroke-width="0.35">4.5</text>
<line x1="1491.0" y1="118.68" x2="1495.0" y2="118.68" stroke="#222222" stroke-width="1.7"/>
<line x1="1487.0" y1="53.55" x2="1495.0" y2="53.55" stroke="#222222" stroke-width="1.7"/>
<text x="1481.9" y="60.55" text-anchor="end" font-family='"Liberation Sans", Arial, sans-serif' font-size="24" fill="#111" stroke="#111" stroke-width="0.35">5.0</text>
<text transform="translate(1438.3,249.2) rotate(-90)" text-anchor="middle" font-family='"Liberation Sans", Arial, sans-serif' font-size="27.5" fill="#111" stroke="#111" stroke-width="0.35">Hardness, GPa</text>
<text x="1733" y="517.4" text-anchor="middle" font-family='"Liberation Sans", Arial, sans-serif' font-size="27.6" fill="#111" stroke="#111" stroke-width="0.35" textLength="212.4" lengthAdjust="spacingAndGlyphs">Applied force, µN</text>
<line x1="1553.3" y1="211.5" x2="1740.2" y2="244.5" stroke="#8a1010" stroke-width="1.8"/>
<line x1="1760.8" y1="248.4" x2="1934.3" y2="283.1" stroke="#8a1010" stroke-width="1.8"/>
<line x1="1543.0" y1="97.4" x2="1543.0" y2="322.6" stroke="#b85a5a" stroke-width="1.1"/><line x1="1538.8" y1="97.4" x2="1547.2" y2="97.4" stroke="#b85a5a" stroke-width="1.1"/><line x1="1538.8" y1="322.6" x2="1547.2" y2="322.6" stroke="#b85a5a" stroke-width="1.1"/>
<line x1="1750.5" y1="145.3" x2="1750.5" y2="347.4" stroke="#b85a5a" stroke-width="1.1"/><line x1="1746.2" y1="145.3" x2="1754.8" y2="145.3" stroke="#b85a5a" stroke-width="1.1"/><line x1="1746.2" y1="347.4" x2="1754.8" y2="347.4" stroke="#b85a5a" stroke-width="1.1"/>
<line x1="1944.6" y1="201.4" x2="1944.6" y2="369.0" stroke="#b85a5a" stroke-width="1.1"/><line x1="1940.3" y1="201.4" x2="1948.8" y2="201.4" stroke="#b85a5a" stroke-width="1.1"/><line x1="1940.3" y1="369.0" x2="1948.8" y2="369.0" stroke="#b85a5a" stroke-width="1.1"/>
<rect x="1536.0" y="202.7" width="14" height="14" fill="#7d0000"/>
<rect x="1743.5" y="239.3" width="14" height="14" fill="#7d0000"/>
<rect x="1937.6" y="278.2" width="14" height="14" fill="#7d0000"/>
<path d="M1860.4 72.0 L1872.9 72.0 A12.0 17.0 0 0 0 1884.9 89.0 L1884.9 102.0 A24.5 30.0 0 0 1 1860.4 72.0 Z" fill="#84612e"/><path d="M1960.8 72.0 L1948.3 72.0 A12.0 17.0 0 0 1 1936.3 89.0 L1936.3 102.0 A24.5 30.0 0 0 0 1960.8 72.0 Z" fill="#84612e"/><rect x="1886.9" y="93.0" width="6.2" height="6.2" fill="#84612e"/><rect x="1899.5" y="93.0" width="6.2" height="6.2" fill="#84612e"/><rect x="1912.0" y="93.0" width="6.2" height="6.2" fill="#84612e"/><rect x="1924.6" y="93.0" width="6.2" height="6.2" fill="#84612e"/></svg>
</body></html>
